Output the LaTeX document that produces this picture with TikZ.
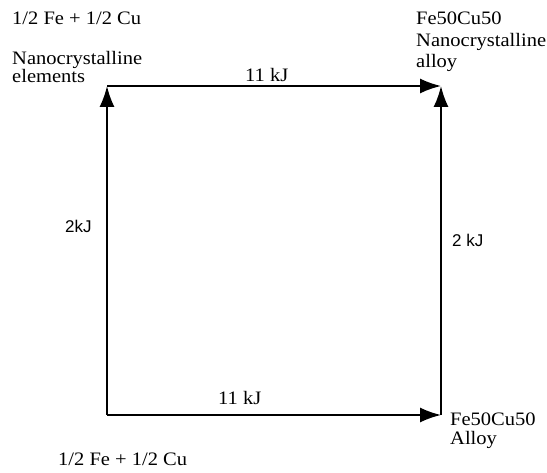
\documentclass[tikz,border=0pt]{standalone}
\usepackage{fontspec}
\setmainfont{Liberation Serif}[FakeStretch=1.08]
\newfontfamily\labelsans{Liberation Sans}
\usetikzlibrary{arrows.meta}

\begin{document}
\begin{tikzpicture}[x=1pt,y=-1pt,>={Latex[length=21pt,width=15pt]},
    txt/.style={inner sep=0pt,anchor=base west,align=left,
                font=\fontsize{19}{18}\selectfont},
    wide/.style={txt,font=\fontsize{19}{21.5}\selectfont},
    kjsans/.style={inner sep=0pt,anchor=base west,
                font=\labelsans\fontsize{17}{20}\selectfont},
    flow/.style={->,line width=1.8pt}]
    \useasboundingbox (0,0) rectangle (547,473);
    \coordinate (elemlow) at (107,415);
    \coordinate (elemnano) at (107,86);
    \coordinate (alloynano) at (441,86);
    \coordinate (alloylow) at (441,415);
    \draw[flow] (elemlow)--(elemnano);
    \draw[flow] (elemnano)--(alloynano);
    \draw[flow] (alloylow)--(alloynano);
    \draw[flow] (elemlow)--(alloylow);
    % multi-line nodes: base is the last line
    \node[txt] (mixtop) at (12,25) {1/2 Fe + 1/2 Cu};
    \node[txt] (nanoel) at (12,83) {Nanocrystalline\\elements};
    \node[wide] (nanoalloy) at (416,68) {Fe50Cu50\\Nanocrystalline\\alloy};
    \node[wide,font=\fontsize{19}{20}\selectfont] (alloy) at (450,445) {Fe50Cu50\\Alloy};
    \node[txt] (mixlow) at (58,465) {1/2 Fe + 1/2 Cu};
    \node[txt] (kjtop) at (245,82) {11 kJ};
    \node[txt] (kjlow) at (218,405) {11 kJ};
    \node[kjsans] (kjleft) at (65,233) {2kJ};
    \node[kjsans] (kjright) at (452,247) {2 kJ};
\end{tikzpicture}
\end{document}
